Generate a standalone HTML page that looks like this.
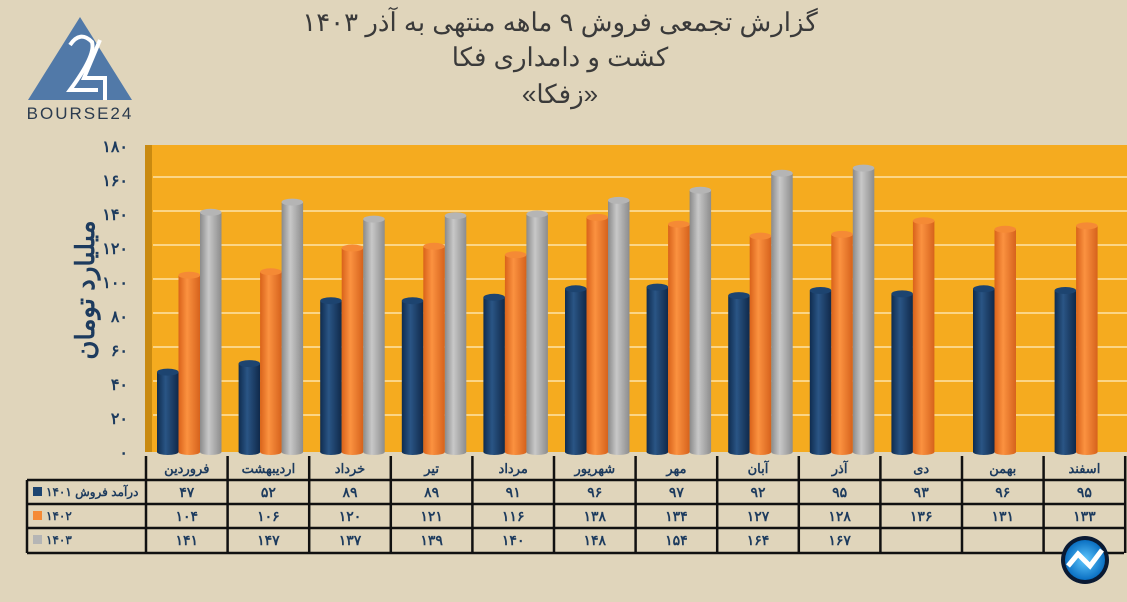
<!DOCTYPE html>
<html><head><meta charset="utf-8"><style>
html,body{margin:0;padding:0;width:1127px;height:602px;overflow:hidden;background:#e0d5bb;}
text{font-family:"Liberation Sans","Noto Sans CJK SC",sans-serif;}
</style></head><body>
<svg id="chart" width="1127" height="602" xmlns="http://www.w3.org/2000/svg">
<defs>
<linearGradient id="gNavy" x1="0" x2="1"><stop offset="0" stop-color="#0f2c4f"/><stop offset="0.4" stop-color="#2a5585"/><stop offset="1" stop-color="#10294a"/></linearGradient>
<linearGradient id="gOrange" x1="0" x2="1"><stop offset="0" stop-color="#d9621a"/><stop offset="0.4" stop-color="#fb9240"/><stop offset="1" stop-color="#d6621c"/></linearGradient>
<linearGradient id="gGray" x1="0" x2="1"><stop offset="0" stop-color="#8a8a8a"/><stop offset="0.4" stop-color="#c8c8c8"/><stop offset="1" stop-color="#8c8c8c"/></linearGradient>
<radialGradient id="gLogo"><stop offset="0" stop-color="#5fc8ff"/><stop offset="1" stop-color="#0a6fc2"/></radialGradient>
</defs>
<g>
<polygon points="80,17 28,100 132,100" fill="#5179a8"/>
<path d="M70,45 Q80,30 92,42 Q96,55 70,90 L98,90" fill="none" stroke="#fff" stroke-width="4"/>
<path d="M100,40 L84,78 L105,78 L105,100" fill="none" stroke="#fff" stroke-width="4"/>
<text x="80" y="119" font-size="17" fill="#2b3b4e" text-anchor="middle" letter-spacing="2">BOURSE24</text>
</g>
<g fill="#3a3a3a" text-anchor="middle">
<text x="560" y="31" font-size="26">گزارش تجمعی فروش ۹ ماهه منتهی به آذر ۱۴۰۳</text>
<text x="560" y="66" font-size="26">کشت و دامداری فکا</text>
<text x="560" y="103" font-size="26">«زفکا»</text>
</g>
<rect x="145" y="145" width="8" height="307" fill="#c98a10"/>
<rect x="152" y="145" width="975" height="307" fill="#f5ab1f"/>
<g id="grid"></g>
<g id="yticks"></g>
<g id="bars"></g>
<text transform="translate(94,290) rotate(-90)" font-size="26" font-weight="bold" fill="#1d3b5e" text-anchor="middle">میلیارد تومان</text>
<g id="table"></g>
<g>
<circle cx="1085" cy="560" r="24" fill="#0a1a33"/>
<circle cx="1085" cy="560" r="20" fill="url(#gLogo)"/>
<path d="M1068,566 L1078,554 L1090,566 L1102,550" fill="none" stroke="#fff" stroke-width="5"/>
</g>
</svg>
<script>
const categories=["فروردین","اردیبهشت","خرداد","تیر","مرداد","شهریور","مهر","آبان","آذر","دی","بهمن","اسفند"];
const s1401=[47,52,89,89,91,96,97,92,95,93,96,95];
const s1402=[104,106,120,121,116,138,134,127,128,136,131,133];
const s1403=[141,147,137,139,140,148,154,164,167,null,null,null];
const yTicks=[0,20,40,60,80,100,120,140,160,180];
const seriesNames=["درآمد فروش ۱۴۰۱","۱۴۰۲","۱۴۰۳"];
const NS="http://www.w3.org/2000/svg";
const fa=n=>String(n).replace(/\d/g,d=>"۰۱۲۳۴۵۶۷۸۹"[d]);
const y=v=>452-v*1.7;
const colW=81.6,col0=146;
const x=i=>col0+i*colW;
function mk(t,a,p){const e=document.createElementNS(NS,t);for(const k in a)e.setAttribute(k,a[k]);p.appendChild(e);return e;}
const grid=document.getElementById('grid'),yt=document.getElementById('yticks');
yTicks.forEach(v=>{
 if(v>0&&v<180){const l=mk('line',{x1:153,x2:1127,y1:y(v)-3,y2:y(v)-3,stroke:'#fde3a8','stroke-width':1.5},grid);
 
 }
 const t=mk('text',{x:128,y:y(v)+6,'font-size':16,'font-weight':'bold',fill:'#1d3b5e','text-anchor':'end'},yt);
 t.textContent=fa(v);
 
 
});
const bars=document.getElementById('bars');
const series=[[s1401,'url(#gNavy)','#1d4470'],[s1402,'url(#gOrange)','#f58a35'],[s1403,'url(#gGray)','#b5b5b5']];
const bw=21.5;
categories.forEach((c,i)=>{
 series.forEach((s,j)=>{
  const v=s[0][i]; if(v==null)return;
  const bx=x(i)+11+j*bw, top=y(v);
  const g=mk('g',{},bars);
  
  
  mk('rect',{x:bx,y:top,width:bw,height:452-top,fill:s[1]},g);
  mk('ellipse',{cx:bx+bw/2,cy:452,rx:bw/2,ry:3,fill:s[1]},g);
  mk('ellipse',{cx:bx+bw/2,cy:top,rx:bw/2,ry:3.5,fill:s[2]},g);
 });
});
const tb=document.getElementById('table');
function ln(x1,y1,x2,y2){const l=mk('line',{x1,y1,x2,y2,stroke:'#111','stroke-width':2.5},tb);}
ln(27,480,1124,480);ln(27,504,1124,504);ln(27,528,1124,528);ln(27,553,1124,553);
ln(27,480,27,553);
for(let i=0;i<=12;i++)ln(x(i),456,x(i),553);
categories.forEach((c,i)=>{
 const t=mk('text',{x:x(i)+colW/2,y:473,'font-size':13,'font-weight':'bold',fill:'#1d3b5e','text-anchor':'middle'},tb);t.textContent=c;
 
 
 series.forEach((s,j)=>{const v=s[0][i];if(v==null)return;
  const tv=mk('text',{x:x(i)+colW/2,y:497+j*24,'font-size':14,'font-weight':'bold',fill:'#1d3b5e','text-anchor':'middle'},tb);tv.textContent=fa(v);
  
  });
});
const legCols=['#1d4470','#f58a35','#b5b5b5'];
seriesNames.forEach((n,j)=>{
 const r=mk('rect',{x:33,y:487+j*24,width:9,height:9,fill:legCols[j]},tb);
 
 
 const t=mk('text',{x:46,y:496+j*24,'font-size':12,'font-weight':'bold',fill:'#1d3b5e','text-anchor':'start'},tb);
 t.textContent=n;
 
 
});
</script>
</body></html>
